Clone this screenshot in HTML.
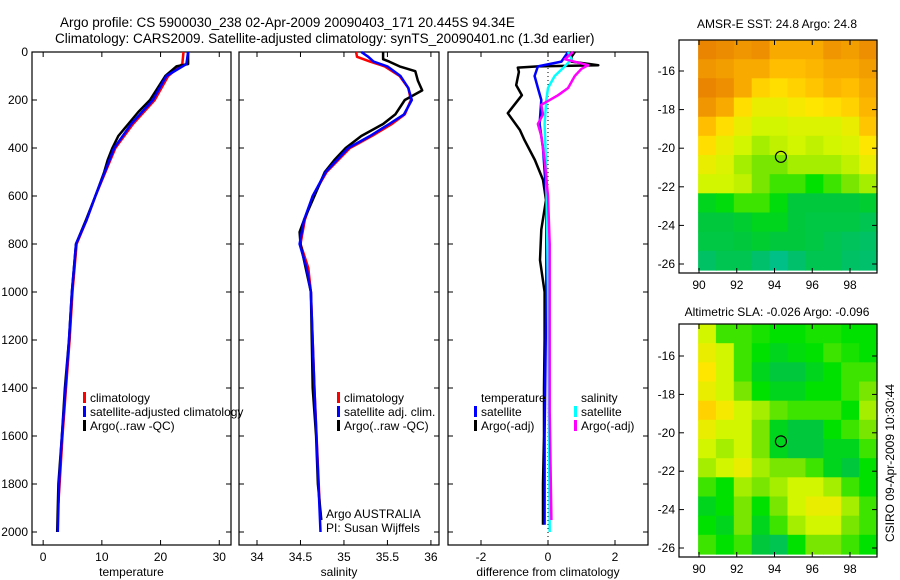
<!DOCTYPE html>
<html><head><meta charset="utf-8"><style>
body{margin:0;background:#fff;}
svg{display:block;font-family:"Liberation Sans",sans-serif;}
</style></head><body>
<svg id="c" width="900" height="580" xmlns="http://www.w3.org/2000/svg">
<text x="60" y="27" font-size="13.5">Argo profile: CS 5900030_238 02-Apr-2009 20090403_171 20.445S 94.34E</text>
<text x="55" y="43" font-size="13.5">Climatology: CARS2009. Satellite-adjusted climatology: synTS_20090401.nc (1.3d earlier)</text>
<text x="777" y="28" font-size="12" text-anchor="middle">AMSR-E SST: 24.8 Argo: 24.8</text>
<text x="777" y="316" font-size="12" text-anchor="middle">Altimetric SLA: -0.026 Argo: -0.096</text>
<text transform="translate(894,463) rotate(-90)" font-size="12" text-anchor="middle">CSIRO 09-Apr-2009 10:30:44</text>
</svg>
<script>
// ---------- data ----------
const depthTicks=[0,200,400,600,800,1000,1200,1400,1600,1800,2000];
const tempTicks=[0,10,20,30];
const salTicks=[34,34.5,35,35.5,36];
const diffTicks=[-2,0,2];
const tempArgoDepth=[0,50,60,100,200,250,300,350,400,450,500,600,700,800,1000,1200,1400,1600,1800,2000];
const tempArgo=[24.7,24.7,22.7,20.8,18.2,16.2,14.5,12.8,11.8,11,10.4,8.9,7.3,5.6,4.9,4.4,3.7,3.2,2.6,2.4];
const tempClimDepth=[0,50,100,200,300,400,500,600,700,800,1000,1200,1400,1600,1800,1880];
const tempClim=[23.9,23.7,21.3,19,15.3,12.3,10.6,8.9,7.4,5.7,5.0,4.5,3.9,3.3,2.8,2.6];
const tempSat=[24.7,24.4,21.0,18.7,15.0,12.1,10.5,8.9,7.4,5.6,4.9,4.4,3.8,3.2,2.7,2.5];
const tempSatDepth=[0,50,100,200,300,400,500,600,700,800,1000,1200,1400,1600,1800,2000];
const salArgoDepth=[0,30,40,60,80,120,160,200,260,300,350,400,450,500,600,700,750,800,900,1000,1400,1600,1800,1950];
const salArgo=[35.45,35.45,35.52,35.64,35.82,35.85,35.9,35.7,35.59,35.45,35.2,35.02,34.89,34.78,34.66,34.54,34.49,34.5,34.56,34.62,34.64,34.68,34.7,34.74];
const salClimDepth=[0,20,40,60,100,150,200,260,300,350,400,500,600,700,800,900,1000,1400,1880];
const salClim=[35.14,35.15,35.3,35.47,35.64,35.74,35.77,35.7,35.55,35.32,35.07,34.8,34.64,34.55,34.5,34.59,34.62,34.66,34.72];
const salSatDepth=[0,20,40,60,100,150,200,260,300,350,400,500,600,700,800,900,1000,1400,2000];
const salSat=[35.2,35.28,35.34,35.5,35.65,35.74,35.78,35.69,35.52,35.3,35.05,34.79,34.64,34.54,34.49,34.57,34.62,34.66,34.73];
const dTempArgoDepth=[0,20,40,55,60,65,83,138,180,255,325,367,450,533,617,740,867,1000,1200,1400,1600,1800,1970];
const dTempArgo=[0.8,0.7,0.7,1.5,-0.3,-0.9,-0.87,-0.95,-0.78,-1.2,-0.84,-0.7,-0.39,-0.15,-0.06,-0.2,-0.24,-0.1,-0.1,-0.12,-0.12,-0.15,-0.15];
const dTempSatDepth=[0,40,60,100,150,200,300,400,600,1000,1600,1970];
const dTempSat=[0.6,0.4,-0.3,-0.4,-0.3,-0.2,-0.25,-0.15,-0.05,-0.05,-0.1,-0.1];
const dSalSatDepth=[0,30,60,100,150,200,300,500,1000,2000];
const dSalSat=[0.6,0.7,0.5,0.2,0.0,-0.05,-0.1,-0.05,0.0,0.05];
const dSalArgoDepth=[0,30,55,70,100,150,180,220,260,300,350,450,600,800,1000,1500,1950];
const dSalArgo=[0.75,0.5,1.2,1.0,0.8,0.6,0.3,-0.2,-0.15,-0.3,-0.2,-0.1,0.0,0.05,0.05,0.05,0.1];
const lonTicks=[90,92,94,96,98];
const latTicks=[-16,-18,-20,-22,-24,-26];
const sstGrid=[
[0.95,0.93,0.9,0.92,0.85,0.85,0.85,0.9,0.88,0.92],
[0.9,0.88,0.85,0.85,0.8,0.8,0.82,0.85,0.85,0.88],
[0.95,0.92,0.85,0.75,0.72,0.75,0.78,0.82,0.8,0.85],
[0.9,0.85,0.72,0.65,0.65,0.68,0.7,0.72,0.75,0.82],
[0.8,0.72,0.65,0.6,0.6,0.62,0.62,0.62,0.65,0.78],
[0.72,0.65,0.6,0.55,0.58,0.6,0.58,0.6,0.62,0.7],
[0.65,0.62,0.55,0.5,0.5,0.55,0.55,0.55,0.58,0.65],
[0.6,0.6,0.58,0.5,0.45,0.45,0.4,0.45,0.5,0.55],
[0.35,0.38,0.45,0.45,0.38,0.3,0.3,0.3,0.3,0.32],
[0.3,0.3,0.32,0.35,0.35,0.3,0.28,0.28,0.28,0.25],
[0.28,0.28,0.3,0.32,0.3,0.3,0.28,0.25,0.22,0.2],
[0.2,0.25,0.25,0.18,0.12,0.18,0.25,0.25,0.2,0.18]];
const slaGrid=[
[0.6,0.45,0.45,0.42,0.4,0.4,0.42,0.42,0.4,0.4],
[0.65,0.6,0.45,0.4,0.35,0.38,0.4,0.45,0.42,0.4],
[0.7,0.6,0.45,0.35,0.3,0.3,0.35,0.4,0.45,0.45],
[0.65,0.6,0.5,0.4,0.35,0.35,0.4,0.4,0.45,0.5],
[0.75,0.68,0.6,0.55,0.48,0.45,0.45,0.45,0.4,0.55],
[0.65,0.6,0.6,0.5,0.35,0.3,0.3,0.4,0.45,0.5],
[0.6,0.55,0.6,0.5,0.35,0.3,0.3,0.35,0.35,0.45],
[0.55,0.6,0.65,0.55,0.5,0.5,0.45,0.35,0.3,0.4],
[0.45,0.4,0.55,0.5,0.55,0.6,0.6,0.55,0.45,0.4],
[0.35,0.4,0.5,0.4,0.5,0.6,0.65,0.65,0.55,0.45],
[0.4,0.35,0.5,0.35,0.45,0.55,0.6,0.6,0.5,0.45],
[0.45,0.4,0.45,0.3,0.25,0.4,0.5,0.5,0.45,0.4]];
const argoLon=94.34, argoLat=-20.445;

// ---------- drawing ----------
const svg=document.getElementById('c');
const NS='http://www.w3.org/2000/svg';
function el(t,a,p){const e=document.createElementNS(NS,t);for(const k in a)e.setAttribute(k,a[k]);(p||svg).appendChild(e);return e;}
const yD=d=>52+d*0.24;
const panels=[
 {x0:32,x1:231,v0:-1.9,v1:32,ticks:tempTicks,label:'temperature',name:'temperature-panel'},
 {x0:239,x1:439,v0:33.793,v1:36.093,ticks:salTicks,label:'salinity',name:'salinity-panel'},
 {x0:448,x1:648,v0:-2.985,v1:2.985,ticks:diffTicks,label:'difference from climatology',name:'difference-panel'}];
panels.forEach((p,i)=>{
 p.sx=v=>p.x0+(v-p.v0)/(p.v1-p.v0)*(p.x1-p.x0);
 const g=el('g',{});
 
 
 el('rect',{x:p.x0,y:52,width:p.x1-p.x0,height:493,fill:'none',stroke:'#000','stroke-width':1.2},g);
 depthTicks.forEach(d=>{
  el('line',{x1:p.x0,x2:p.x0+5,y1:yD(d),y2:yD(d),stroke:'#000'},g);
  el('line',{x1:p.x1,x2:p.x1-5,y1:yD(d),y2:yD(d),stroke:'#000'},g);
  if(i===0){const t=el('text',{x:28,y:yD(d)+4,'font-size':12,'text-anchor':'end'},g);t.textContent=d;
   }
 });
 p.ticks.forEach(v=>{
  const x=p.sx(v);
  el('line',{x1:x,x2:x,y1:545,y2:540,stroke:'#000'},g);
  el('line',{x1:x,x2:x,y1:52,y2:57,stroke:'#000'},g);
  const t=el('text',{x:x,y:561,'font-size':12,'text-anchor':'middle'},g);t.textContent=v;
  
 });
 const t=el('text',{x:(p.x0+p.x1)/2,y:576,'font-size':12,'text-anchor':'middle'},g);t.textContent=p.label;
 
});
function line(p,depths,vals,color,w,name){
 const pts=depths.map((d,k)=>p.sx(vals[k]).toFixed(1)+','+yD(d).toFixed(1)).join(' ');
 const e=el('polyline',{points:pts,fill:'none',stroke:color,'stroke-width':w,'stroke-linejoin':'round'});
 
 
}
const [P1,P2,P3]=panels;
line(P1,tempClimDepth,tempClim,'#f00',2.5,'temperature-climatology-line');
line(P1,tempArgoDepth,tempArgo,'#000',2.5,'temperature-argo-line');
line(P1,tempSatDepth,tempSat,'#00f',2.5,'temperature-satellite-line');
line(P2,salClimDepth,salClim,'#f00',2.5,'salinity-climatology-line');
line(P2,salArgoDepth,salArgo,'#000',2.5,'salinity-argo-line');
line(P2,salSatDepth,salSat,'#00f',2.5,'salinity-satellite-line');
el('line',{x1:P3.sx(0),x2:P3.sx(0),y1:52,y2:545,stroke:'#000','stroke-dasharray':'1,3'});
line(P3,dTempArgoDepth,dTempArgo,'#000',2.5,'temp-diff-argo-line');
line(P3,dTempSatDepth,dTempSat,'#00f',2.5,'temp-diff-satellite-line');
line(P3,dSalSatDepth,dSalSat,'#0ff',2.5,'sal-diff-satellite-line');
line(P3,dSalArgoDepth,dSalArgo,'#f0f',2.5,'sal-diff-argo-line');
function legend(x,y,color,txt,name){
 const g=el('g',{});
 
 
 if(color)el('rect',{x:x-7,y:y-10,width:3,height:11,fill:color},g);
 const t=el('text',{x:x,y:y,'font-size':12},g);t.textContent=txt;
}
legend(90,402,'#f00','climatology','legend-climatology');
legend(90,416,'#00f','satellite-adjusted climatology','legend-satellite-adjusted');
legend(90,430,'#000','Argo(..raw -QC)','legend-argo');
legend(344,402,'#f00','climatology','legend-climatology-2');
legend(344,416,'#00f','satellite adj. clim.','legend-satellite-2');
legend(344,430,'#000','Argo(..raw -QC)','legend-argo-2');
legend(326,518,null,'Argo AUSTRALIA','argo-australia-label');
legend(326,532,null,'PI: Susan Wijffels','pi-label');
legend(481,402,null,'temperature','legend-temperature-header');
legend(481,416,'#00f','satellite','legend-temp-satellite');
legend(481,430,'#000','Argo(-adj)','legend-temp-argo');
legend(581,402,null,'salinity','legend-salinity-header');
legend(581,416,'#0ff','satellite','legend-sal-satellite');
legend(581,430,'#f0f','Argo(-adj)','legend-sal-argo');

// maps
const stops=[[0,0,200,200],[0.15,0,190,120],[0.3,0,200,60],[0.4,0,225,0],[0.5,120,230,0],[0.6,210,245,0],[0.7,255,230,0],[0.8,255,190,0],[0.9,240,150,0],[1,225,115,0]];
function cmap(v){for(let i=1;i<stops.length;i++){if(v<=stops[i][0]){const a=stops[i-1],b=stops[i],t=(v-a[0])/(b[0]-a[0]);
 return 'rgb('+[1,2,3].map(k=>Math.round(a[k]+(b[k]-a[k])*t)).join(',')+')';}}return 'rgb(225,115,0)';}
function map(top,bot,lat16y,lat26y,grid,name){
 const sx=lon=>699+(lon-90)*(850-699)/8;
 const sy=lat=>lat16y+(lat+16)*(lat26y-lat16y)/(-10);
 const g=el('g',{});
 
 
 const latB=-16-(bot-lat16y)/((lat26y-lat16y)/10);
 const rows=grid.length,cols=grid[0].length;
 const lonA=89.95,lonB=99.43,latA=-16-(top-lat16y)/((lat26y-lat16y)/10);
 grid.forEach((row,r)=>row.forEach((v,c)=>{
  const x0=sx(lonA+(lonB-lonA)*c/cols),x1=sx(lonA+(lonB-lonA)*(c+1)/cols);
  const y0=sy(latA+(latB-latA)*r/rows),y1=sy(latA+(latB-latA)*(r+1)/rows);
  const e=el('rect',{x:x0.toFixed(1),y:y0.toFixed(1),width:(x1-x0+0.6).toFixed(1),height:(y1-y0+0.6).toFixed(1),fill:cmap(v)},g);
  
  
 }));
 el('rect',{x:679,y:top,width:198,height:bot-top+3,fill:'none',stroke:'#000','stroke-width':1.2},g);
 lonTicks.forEach(l=>{const x=sx(l);
  el('line',{x1:x,x2:x,y1:top,y2:top+5,stroke:'#000'},g);
  el('line',{x1:x,x2:x,y1:bot+3,y2:bot-2,stroke:'#000'},g);
  const t=el('text',{x:x,y:bot+19,'font-size':12,'text-anchor':'middle'},g);t.textContent=l;});
 latTicks.forEach(l=>{const y=sy(l);
  el('line',{x1:679,x2:684,y1:y,y2:y,stroke:'#000'},g);
  el('line',{x1:877,x2:872,y1:y,y2:y,stroke:'#000'},g);
  const t=el('text',{x:675,y:y+4,'font-size':12,'text-anchor':'end'},g);t.textContent=l;});
 const c=el('circle',{cx:sx(argoLon),cy:sy(argoLat),r:5.5,fill:'none',stroke:'#000','stroke-width':1.2},g);
 
 
}
map(40,270,71,264,sstGrid,'sst-map');
map(324,554,356,548,slaGrid,'sla-map');
</script>
</body></html>
